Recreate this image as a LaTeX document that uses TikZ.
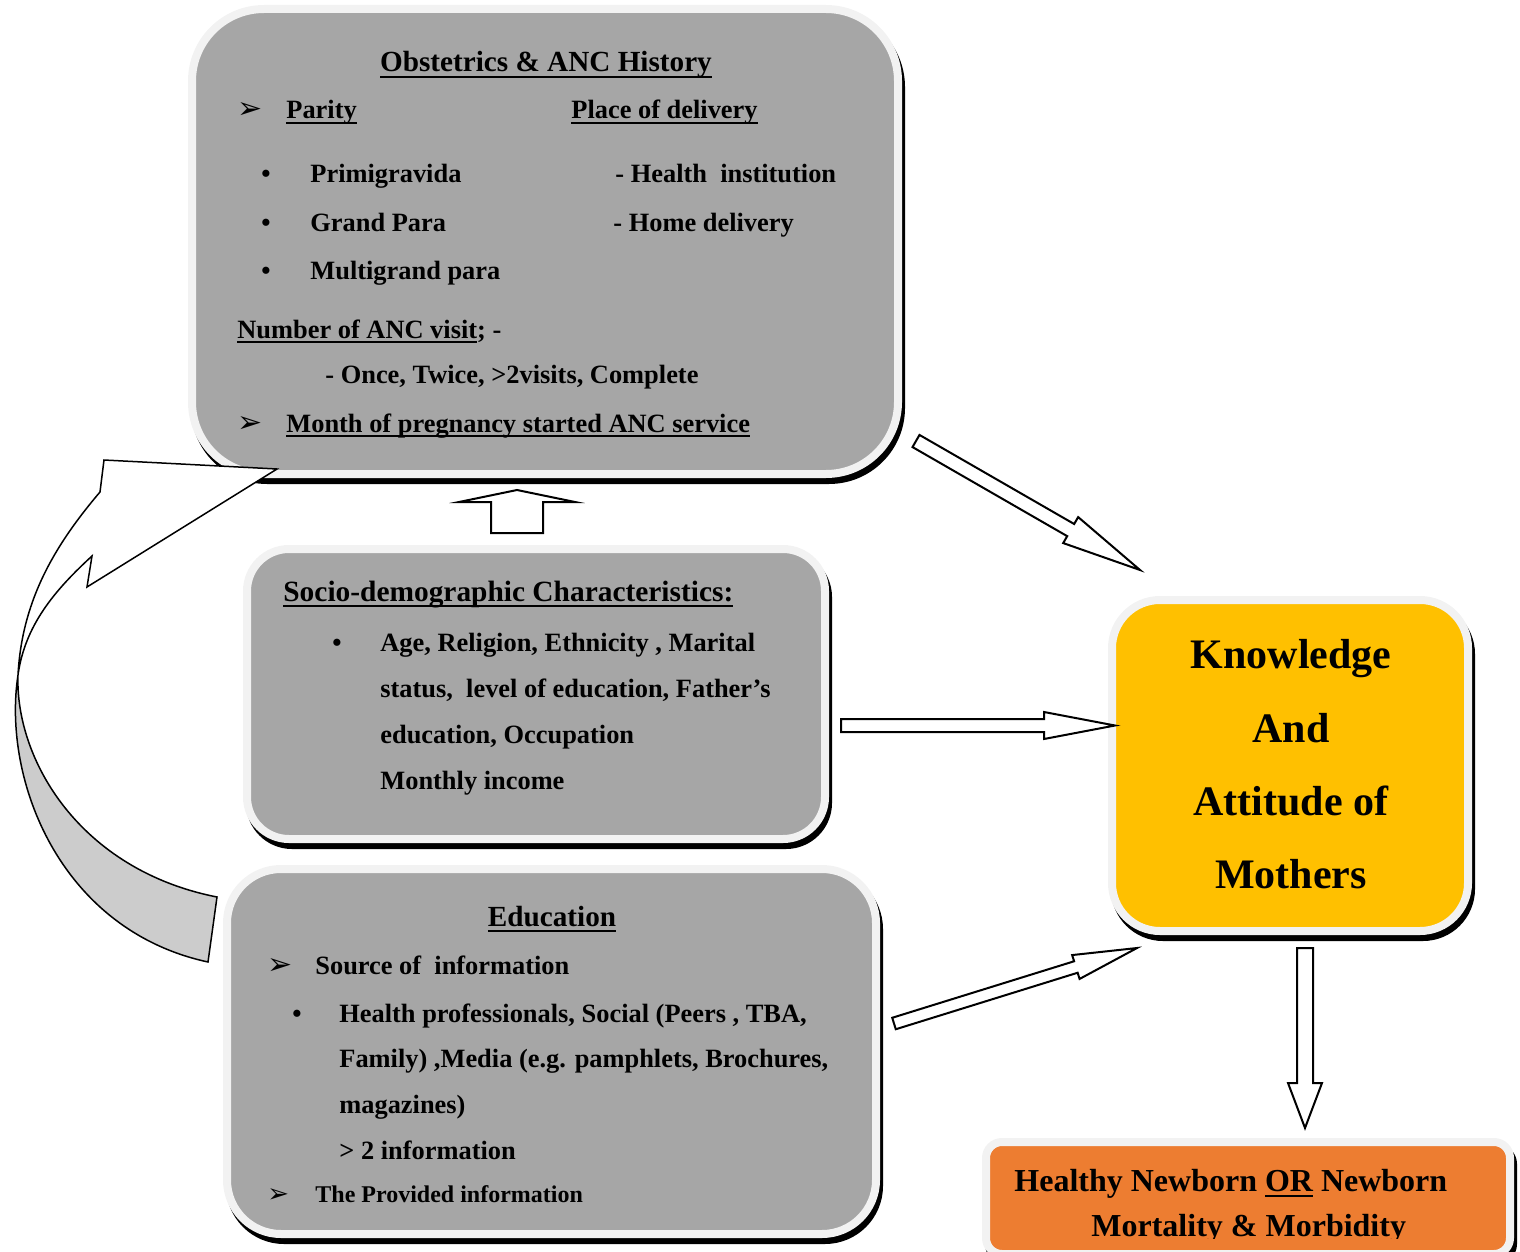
\documentclass[tikz,border=0pt]{standalone}
\usepackage{fontspec}
\setmainfont{Liberation Serif}
\newfontfamily\dingfont{DejaVu Sans}
\usetikzlibrary{positioning}
\usetikzlibrary{calc}
\usetikzlibrary{fit}
\usetikzlibrary{shadows}

\definecolor{panelgray}{HTML}{A6A6A6}
\definecolor{rimgray}{HTML}{F2F2F2}
\definecolor{bandgray}{HTML}{CCCCCC}
\definecolor{knowyellow}{HTML}{FFC000}
\definecolor{outorange}{HTML}{ED7D31}

% thick underline as in the headings
\newcommand{\undr}[1]{\setbox0=\hbox{#1}\rlap{\rule[-0.2em]{\wd0}{0.08em}}\box0\relax}

% hollow block arrow: tail, tip, shaft half width, head half width, head length
\newcommand{\blockarrow}[5]{%
  \path let \p1=($(#2)-(#1)$) in \pgfextra{%
    \pgfmathsetmacro{\arrang}{atan2(\y1,\x1)}%
    \pgfmathsetmacro{\arrlen}{2*veclen(\x1,\y1)}%
    \global\let\arrang\arrang \global\let\arrlen\arrlen};
  \begin{scope}[shift={(#1)}, rotate=\arrang]
    \draw[blockline] (0,#3) -- ({\arrlen-#5},#3) -- ({\arrlen-#5},#4) -- (\arrlen,0)
      -- ({\arrlen-#5},-#4) -- ({\arrlen-#5},-#3) -- (0,-#3) -- cycle;
  \end{scope}}

\tikzset{
  panel/.style={draw=rimgray, line width=4pt, fill=panelgray, inner sep=0pt,
    drop shadow={shadow xshift=1.5pt, shadow yshift=-3pt, fill=black, draw=black, line width=4pt, opacity=1}},
  blockline/.style={draw=black, line width=1pt, fill=white, line join=miter},
  bandline/.style={draw=black, line width=0.75pt},
  body/.style={anchor=base west, inner sep=0pt, font=\fontsize{13.2}{16}\selectfont\bfseries},
  small/.style={anchor=base west, inner sep=0pt, font=\fontsize{12}{14}\selectfont\bfseries},
  head/.style={anchor=base, inner sep=0pt, font=\fontsize{14.6}{17}\selectfont\bfseries},
  headw/.style={anchor=base west, inner sep=0pt, font=\fontsize{14.7}{17}\selectfont\bfseries},
  big/.style={anchor=base, inner sep=0pt, font=\fontsize{21}{25}\selectfont\bfseries},
  outtxt/.style={anchor=base west, inner sep=0pt, font=\fontsize{16}{19}\selectfont\bfseries},
  tick/.style={anchor=base west, inner sep=0pt, font=\dingfont\fontsize{15}{17}\selectfont},
  dot/.style={anchor=base west, inner sep=0pt, font=\fontsize{13.2}{16}\selectfont\bfseries}
}

\begin{document}
\begin{tikzpicture}[x=0.5pt, y=-0.5pt]

        \useasboundingbox (0,0) rectangle (1520,1252);

        % Boxes
        \node[panel, fit={(192,9) (898,474)}, rounded corners=36pt] (obst) {};
        \node[panel, fit={(247,549) (825,839)}, rounded corners=21pt] (socio) {};
        \node[panel, fit={(227,869) (876,1234)}, rounded corners=27pt] (educ) {};
        \node[panel, fill=knowyellow, fit={(1112,600) (1468,931)}, rounded corners=24pt] (know) {};
        \node[panel, fill=outorange, fit={(986,1142) (1510,1254)}, rounded corners=8pt] (outcome) {};

        % Block arrows
        \coordinate (a1s) at (517,533);
        \coordinate (a1e) at (517,490);
        \coordinate (a2s) at (916,441);
        \coordinate (a2e) at (1140,570);
        \coordinate (a3s) at (841,725.5);
        \coordinate (a3e) at (1115,725.5);
        \coordinate (a4s) at (894,1023.5);
        \coordinate (a4e) at (1137,948);
        \coordinate (a5s) at (1305,948);
        \coordinate (a5e) at (1305,1128);

        \blockarrow{a1s}{a1e}{26}{58}{12}
        \blockarrow{a2s}{a2e}{7}{15}{80}
        \blockarrow{a3s}{a3e}{6.5}{13.5}{71}
        \blockarrow{a4s}{a4e}{6}{12.5}{64}
        \blockarrow{a5s}{a5e}{8}{17}{45}

        % Curved arrow from Education back to Obstetrics
        \draw[bandline, fill=bandgray] (18,675) .. controls (2,780) and (60,930) .. (208,962)
            -- (217,897) .. controls (80,870) and (15,760) .. (18,675) -- cycle;
        \draw[bandline, fill=white] (18,675) .. controls (22,600) and (55,545) .. (100,492)
            -- (104,460) -- (277,469) -- (87,587) -- (92,556)
            .. controls (55,590) and (25,625) .. (18,675) -- cycle;

        % Obstetrics & ANC History
        \node[head] (obsttitle) at (546,72) {\undr{Obstetrics \& ANC History}};
        \node[tick] (tick1) at (237,119) {➢};
        \node[body] (parity) at (286,119) {\undr{Parity}};
        \node[body] (place) at (571,119) {\undr{Place of delivery}};
        \foreach \t/\y [count=\i] in {Primigravida/182, Grand Para/231, Multigrand para/279} {
            \node[dot] (pdot\i) at (261,\y) {•};
            \node[body] (par\i) at (310,\y) {\t};
        }
        \node[body] (health) at (615,182) {- Health\ \ institution};
        \node[body] (home) at (613,231) {- Home delivery};
        \node[body] (ancnum) at (237,338) {\undr{Number of ANC visit}; -};
        \node[body] (ancval) at (325,383) {- Once, Twice, >2visits, Complete};
        \node[tick] (tick2) at (237,432) {➢};
        \node[body] (month) at (286,432) {\undr{Month of pregnancy started ANC service}};

        % Socio-demographic
        \node[headw] (sociotitle) at (283,601) {\undr{Socio-demographic Characteristics:}};
        \node[dot] (sdot) at (332,651) {•};
        \foreach \t/\y [count=\i] in {{Age, Religion, Ethnicity , Marital}/651,
                {status,\ \ level of education, Father’s}/697,
                {education, Occupation}/743, {Monthly income}/789} {
            \node[body] (soc\i) at (380,\y) {\t};
        }

        % Education
        \node[head] (eductitle) at (552,926) {\undr{Education}};
        \node[tick] (tick3) at (267,974) {➢};
        \node[body] (source) at (315,974) {Source of\ \ information};
        \node[dot] (edot) at (292,1022) {•};
        \foreach \t/\y [count=\i] in {{Health professionals, Social (Peers , TBA,}/1022,
                {Family) ,Media (e.g. pamphlets, Brochures,}/1067,
                {magazines)}/1113, {> 2 information}/1159} {
            \node[body] (edu\i) at (339,\y) {\t};
        }
        \node[tick, font=\dingfont\fontsize{13}{15}\selectfont] (tick4) at (267,1202) {➢};
        \node[small] (provided) at (315,1202) {The Provided information};

        % Knowledge and attitude
        \foreach \w/\y [count=\i] in {Knowledge/668, And/742, Attitude of/815, Mothers/888} {
            \node[big] (know\i) at (1291,\y) {\w};
        }

        % Outcome
        \begin{scope}
            \clip (990,1146) rectangle (1505,1238);
            \node[outtxt] (out1) at (1014,1191) {Healthy Newborn \undr{OR} Newborn};
            \node[outtxt] (out2) at (1091,1236) {Mortality \& Morbidity};
        \end{scope}

    \end{tikzpicture}
\end{document}
